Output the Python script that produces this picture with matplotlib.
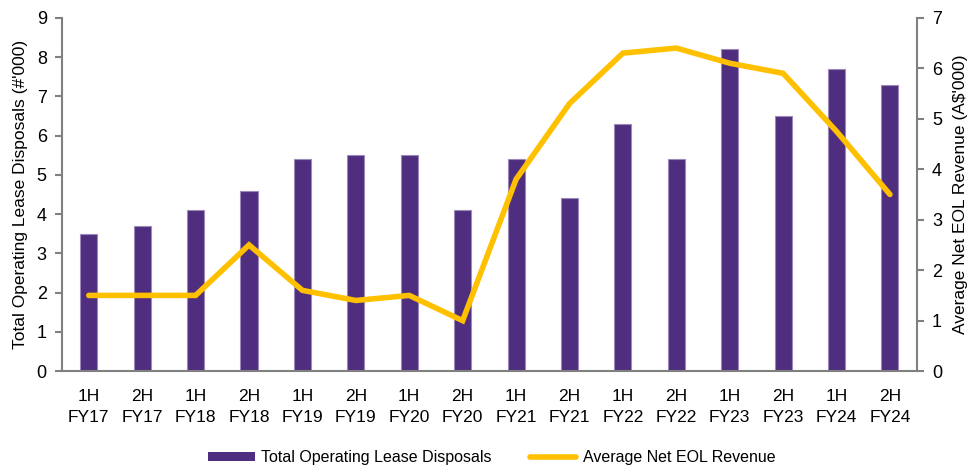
import matplotlib.pyplot as plt
from matplotlib.patches import Patch
from matplotlib.lines import Line2D

periods = ["1H\nFY17", "2H\nFY17", "1H\nFY18", "2H\nFY18", "1H\nFY19", "2H\nFY19",
           "1H\nFY20", "2H\nFY20", "1H\nFY21", "2H\nFY21", "1H\nFY22", "2H\nFY22",
           "1H\nFY23", "2H\nFY23", "1H\nFY24", "2H\nFY24"]
disposals = [3.5, 3.7, 4.1, 4.6, 5.4, 5.5, 5.5, 4.1, 5.4, 4.4, 6.3, 5.4, 8.2, 6.5, 7.7, 7.3]
eol_revenue = [1.5, 1.5, 1.5, 2.5, 1.6, 1.4, 1.5, 1.0, 3.8, 5.3, 6.3, 6.4, 6.1, 5.9, 4.75, 3.5]

purple = "#4F2D7F"
gold = "#FFC000"
grey = "#808080"

plt.rcParams['font.family'] = ['Liberation Sans Narrow', 'Liberation Sans', 'DejaVu Sans']
plt.rcParams['font.size'] = 12.5

fig = plt.figure(figsize=(9.7, 4.68), dpi=100)
ax = fig.add_axes([0.064, 0.207, 0.881, 0.755])
ax2 = ax.twinx()

x = list(range(len(periods)))
ax.bar(x, disposals, width=0.32, color=purple, edgecolor="#9C89BC", linewidth=0.8, zorder=2)
ax2.plot(x, eol_revenue, color=gold, linewidth=4, solid_capstyle="round",
         solid_joinstyle="miter", zorder=3)

ax.set_xlim(-0.5, len(periods) - 0.5)
ax.set_ylim(0, 9)
ax2.set_ylim(0, 7)
ax.set_yticks(range(0, 10))
ax2.set_yticks(range(0, 8))
ax.set_xticks(x)
ax.set_xticklabels(periods, linespacing=1.45)

for a in (ax, ax2):
    a.spines["top"].set_visible(False)
    for s in ("left", "right", "bottom"):
        a.spines[s].set_color(grey)
        a.spines[s].set_linewidth(1.5)
    a.tick_params(axis="y", direction="out", length=5, color=grey, width=1.5, pad=6,
                  labelsize=13)
ax.spines["right"].set_visible(False)
ax2.spines["left"].set_visible(False)
ax2.spines["bottom"].set_visible(False)
ax.tick_params(axis="x", length=0, pad=13)

ax.set_ylabel("Total Operating Lease Disposals (#'000)", labelpad=6)
ax2.set_ylabel("Average Net EOL Revenue (A$'000)", labelpad=8)

handles = [Patch(facecolor=purple, edgecolor="none"),
           Line2D([0], [0], color=gold, linewidth=4, solid_capstyle="round")]
fig.legend(handles, ["Total Operating Lease Disposals", "Average Net EOL Revenue"],
           loc="center", bbox_to_anchor=(0.507, 0.022), ncol=2, frameon=False,
           fontsize=11.5, handlelength=2.9, handleheight=0.55, columnspacing=2.4,
           handletextpad=0.4, borderpad=0)

fig.savefig("out.png", dpi=100)
